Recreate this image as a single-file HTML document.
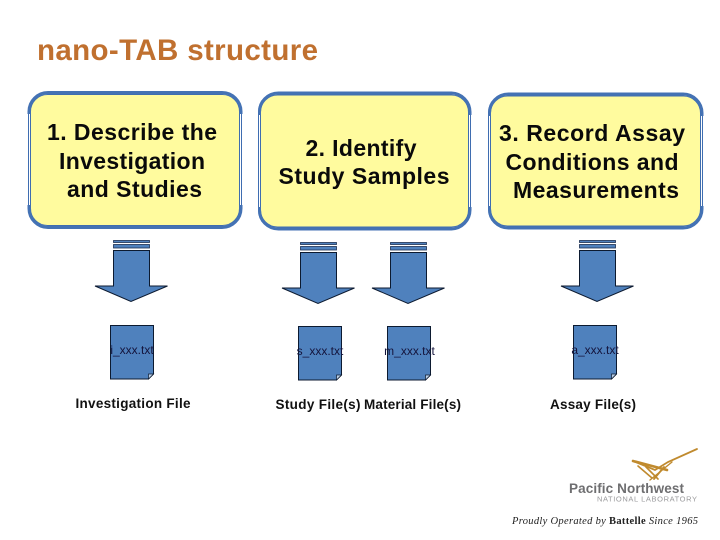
<!DOCTYPE html>
<html><head><meta charset="utf-8"><style>
html,body{margin:0;padding:0;background:#fff}
svg{display:block}
text{font-family:"Liberation Sans",Arial,sans-serif}
.t{font-weight:bold;font-size:23px;fill:#0a0a0a;text-anchor:middle}
.l{font-weight:bold;font-size:13.5px;fill:#111;text-anchor:middle}
.d{font-size:12px;fill:#14143c;text-anchor:middle}
.out{fill:#fff;stroke:#3F6DB0;stroke-width:1}
.in{fill:#FFFB9E;stroke:#3F6DB0;stroke-width:1}
.o{fill:none;stroke:#4472B4;stroke-width:3}
.a{fill:#4F81BD;stroke:#0c1a30;stroke-width:1}
.s{fill:#4F81BD;stroke:#1c2f50;stroke-width:.8}
</style></head><body>
<svg width="720" height="540" viewBox="0 0 720 540" xmlns="http://www.w3.org/2000/svg">
<defs>
<g id="arrow">
<rect class="s" x="113.5" y="240.5" width="36" height="2"/>
<rect class="s" x="113.5" y="244.5" width="36" height="3.5"/>
<path class="a" d="M113.5 250.5H149.5V286H167.5L131 301.5L95 286H113.5Z"/>
</g>
<g id="doc">
<path class="a" d="M0.5 0.5H43.5V49L38.5 54H0.5Z"/>
<path d="M38.5 54V49H43.5Z" fill="#B9CDE5" stroke="#0c1a30" stroke-width="0.7"/>
</g>
</defs>
<rect width="720" height="540" fill="#fff"/>
<text x="37" y="60" font-size="29.5" font-weight="bold" fill="#C0702F" textLength="281">nano-TAB structure</text>

<rect class="out" x="28.5" y="92" width="213" height="136" rx="19"/>
<rect class="in" x="30.5" y="94.5" width="209" height="131" rx="17"/>
<path class="o" d="M29 114V111.5A19 19 0 0 1 48 92.5H222A19 19 0 0 1 241 111.5V114M29 205V208.5A19 19 0 0 0 48 227.5H222A19 19 0 0 0 241 208.5V205"/>

<rect class="out" x="258.5" y="92.5" width="212" height="137" rx="19"/>
<rect class="in" x="260.5" y="95" width="208" height="132" rx="17"/>
<path class="o" d="M259.5 115V112A19 19 0 0 1 278.5 93H451.5A19 19 0 0 1 470 112V115M259.5 207V210A19 19 0 0 0 278.5 229H451.5A19 19 0 0 0 470 210V207"/>

<rect class="out" x="488.5" y="93.5" width="214" height="135" rx="19"/>
<rect class="in" x="490.5" y="96" width="210" height="130" rx="17"/>
<path class="o" d="M489.5 116V113A19 19 0 0 1 508.5 94H683A19 19 0 0 1 702 113V116M489.5 206V209A19 19 0 0 0 508.5 228H683A19 19 0 0 0 702 209V206"/>

<text class="t" x="132" y="140" textLength="170">1. Describe the</text>
<text class="t" x="132" y="169" textLength="146">Investigation</text>
<text class="t" x="134.5" y="197" textLength="135">and Studies</text>

<text class="t" x="361" y="156" textLength="111">2. Identify</text>
<text class="t" x="364" y="184" textLength="171">Study Samples</text>

<text class="t" x="592" y="141" textLength="186">3. Record Assay</text>
<text class="t" x="592" y="170" textLength="173">Conditions and</text>
<text class="t" x="596" y="198" textLength="166">Measurements</text>

<use href="#arrow"/>
<use href="#arrow" x="187" y="2"/>
<use href="#arrow" x="277" y="2"/>
<use href="#arrow" x="466"/>

<use href="#doc" x="110" y="325"/>
<use href="#doc" x="298" y="326"/>
<use href="#doc" x="387" y="326"/>
<use href="#doc" x="573" y="325"/>

<text class="d" x="132" y="354">i_xxx.txt</text>
<text class="d" x="320" y="355">s_xxx.txt</text>
<text class="d" x="409.5" y="355">m_xxx.txt</text>
<text class="d" x="595" y="354">a_xxx.txt</text>

<text class="l" x="133" y="408" textLength="115">Investigation File</text>
<text class="l" x="318" y="409" textLength="85">Study File(s)</text>
<text class="l" x="412.5" y="409" textLength="97">Material File(s)</text>
<text class="l" x="593" y="409" textLength="86">Assay File(s)</text>

<g fill="none" stroke="#C08A2E" stroke-linecap="round">
<path d="M633 461L655 470L668 462L697 449" stroke-width="1.8"/>
<path d="M633 461L652 466L667 470" stroke-width="2.6"/>
<path d="M638 466L652 478" stroke-width="1.6"/>
<path d="M646 467L658 479" stroke-width="1.6"/>
<path d="M654 479L664 467" stroke-width="1.8"/>
<path d="M650 480L672 462" stroke-width="1.4"/>
</g>
<text x="569" y="493" font-size="13.5" font-weight="bold" fill="#6e6e70" textLength="115">Pacific Northwest</text>
<text x="597" y="501.5" font-size="7.5" fill="#9a9a9c" textLength="100">NATIONAL LABORATORY</text>
<text x="512" y="524" font-size="10.5" fill="#222" style="font-family:'Liberation Serif',serif;font-style:italic" textLength="186">Proudly Operated by <tspan font-style="normal" font-weight="bold">Battelle</tspan> Since 1965</text>
</svg>
</body></html>
